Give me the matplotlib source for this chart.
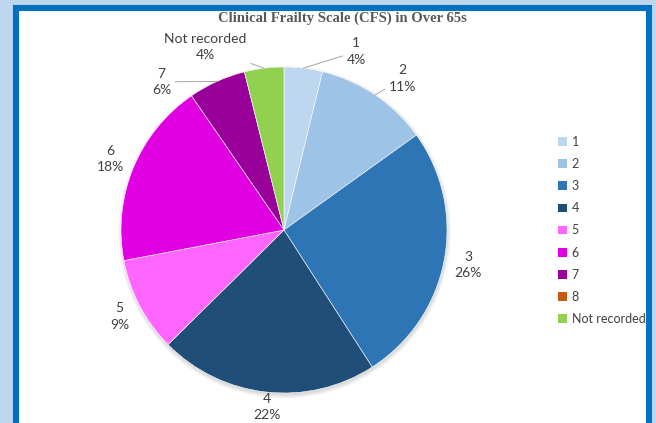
import matplotlib
matplotlib.use("Agg")
import matplotlib.pyplot as plt
import numpy as np
from matplotlib.patches import Rectangle, Patch, Circle

title = "Clinical Frailty Scale (CFS) in Over 65s"
categories = ["1", "2", "3", "4", "5", "6", "7", "8", "Not recorded"]
values = [3.8, 11.3, 25.8, 21.7, 9.4, 18.4, 5.7, 0.0, 3.9]
pct_labels = ["4%", "11%", "26%", "22%", "9%", "18%", "6%", "0%", "4%"]
colors = ["#BDD7EE", "#9DC3E6", "#2E75B6", "#1F4E79", "#FF66FF",
          "#E100E1", "#990099", "#C55A11", "#92D050"]

# label placement styles: (radius factor, angular offset in degrees clockwise, leader line)
label_style = [(1.18, 15.2, True), (1.18, 4.0, True), (1.15, 0.0, False),
               (1.09, -0.7, False), (1.14, 0.0, False), (1.15, 0.0, False),
               (1.18, -15.3, True), (None, 0, False), (1.22, -16.2, True)]

W, H = 656, 423
fig = plt.figure(figsize=(W / 100, H / 100), dpi=100, facecolor="#BDD7EE")
ax = fig.add_axes([0, 0, 1, 1])

# frame
ax.add_patch(Rectangle((15.5, -20), 633.5, H - 7.5 + 20, facecolor="white",
                       edgecolor="#0070C0", lw=4.4, zorder=0))

cx, cy, R = 284, H - 230, 163

# soft shadow
for i in range(6):
    ax.add_patch(Circle((cx + 0.5, cy - 2.0), R + 3.5 - i * 0.7, facecolor="black",
                        alpha=0.025, edgecolor="none", zorder=1))

wedges, _ = ax.pie(values, colors=colors, startangle=90, counterclock=False,
                   center=(cx, cy), radius=R, frame=True,
                   wedgeprops=dict(edgecolor="white", linewidth=0.4, zorder=2))
ax.set_xlim(0, W)
ax.set_ylim(0, H)
ax.set_aspect("auto")
ax.axis("off")

lab_font = dict(family="Lato", size=10, color="#404040")
for w, cat, pl, st in zip(wedges, categories, pct_labels, label_style):
    rf, off, lead = st
    if rf is None:
        continue
    mid = np.deg2rad((w.theta1 + w.theta2) / 2)
    lab_ang = mid - np.deg2rad(off)
    edge = (cx + R * np.cos(mid), cy + R * np.sin(mid))
    pos = (cx + R * rf * np.cos(lab_ang), cy + R * rf * np.sin(lab_ang))
    if lead:
        ax.annotate(f"{cat}\n{pl}", xy=edge, xytext=pos, ha="center", va="center",
                    linespacing=1.45, zorder=5,
                    arrowprops=dict(arrowstyle="-", color="#A6A6A6", lw=0.7,
                                    shrinkA=1, shrinkB=0), **lab_font)
    else:
        ax.text(pos[0], pos[1], f"{cat}\n{pl}", ha="center", va="center",
                linespacing=1.45, zorder=5, **lab_font)

ax.text(342, H - 18, title, ha="center", va="center", family="Liberation Serif",
        weight="bold", size=10.5, color="#595959")

handles = [Patch(facecolor=c, edgecolor="none") for c in colors]
leg = ax.legend(handles, categories, loc="upper left", bbox_to_anchor=(558 / W, 1 - 136 / H),
                frameon=False, prop=dict(family="Lato", size=9), labelcolor="#404040",
                handlelength=0.7, handleheight=0.7, handletextpad=0.4,
                labelspacing=0.81, borderaxespad=0, borderpad=0)

fig.savefig("out.png", dpi=100, facecolor=fig.get_facecolor())
